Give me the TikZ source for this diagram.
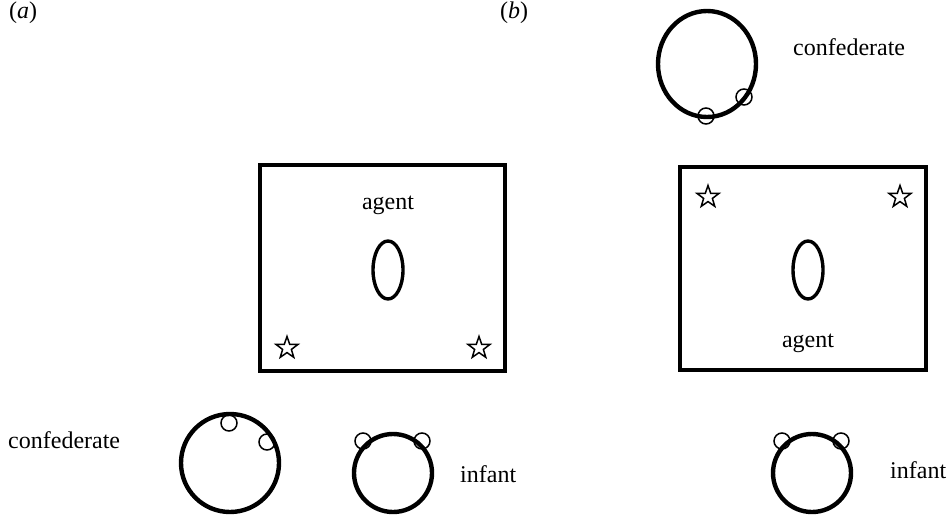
\documentclass[tikz,border=0pt]{standalone}
\usepackage{fontspec}
\setmainfont{Liberation Serif}
\usetikzlibrary{shapes.geometric}
\begin{document}
\begin{tikzpicture}[x=1pt,y=-1pt,
  lbl/.style={font=\fontsize{24}{28}\selectfont, inner sep=0pt},
  room/.style={draw, line width=4.6pt},
  body/.style={draw, line width=4.4pt},
  agentbody/.style={draw, line width=3.4pt},
  eye/.style={draw, line width=1.5pt, fill=none},
  toy/.style={draw, star, star points=5, star point ratio=2.5, minimum size=23pt, inner sep=0pt, line width=1.5pt}
]
\useasboundingbox (0,0) rectangle (947,514);
% labels
\node[lbl, anchor=west] (la) at (9,13) {(\textit{a})};
\node[lbl, anchor=west] (lb) at (500,13) {(\textit{b})};
% panel a
\node[room, minimum width=245pt, minimum height=206pt, inner sep=0pt] (boxa) at (382.5,268) {};
\node[lbl] (agenta) at (388,205) {agent};
\draw[agentbody] (388,270) ellipse (15 and 29);
\node[toy] (sa1) at (287,348) {};
\node[toy] (sa2) at (479,348) {};
\draw[body] (230,463) circle (49);
\draw[eye] (229,423) circle (8);
\draw[eye] (267,442) circle (8);
\node[lbl, anchor=west] (confa) at (8,440) {confederate};
\draw[body] (393,473) circle (39);
\draw[eye] (363,441) circle (8);
\draw[eye] (422,441) circle (8);
\node[lbl, anchor=west] (infa) at (460,474) {infant};
% panel b
\node[room, minimum width=246pt, minimum height=203pt, inner sep=0pt] (boxb) at (803,268.5) {};
\node[toy] (sb1) at (708,197) {};
\node[toy] (sb2) at (900,197) {};
\draw[agentbody] (808,270) ellipse (15 and 29);
\node[lbl] (agentb) at (808,343) {agent};
\draw[body] (707,64) ellipse (49 and 53);
\draw[eye] (706,116) circle (8);
\draw[eye] (744,97) circle (8);
\node[lbl, anchor=west] (confb) at (793,47) {confederate};
\draw[body] (812,473) circle (39);
\draw[eye] (782,441) circle (8);
\draw[eye] (841,441) circle (8);
\node[lbl, anchor=west] (infb) at (890,470) {infant};
\end{tikzpicture}
\end{document}
